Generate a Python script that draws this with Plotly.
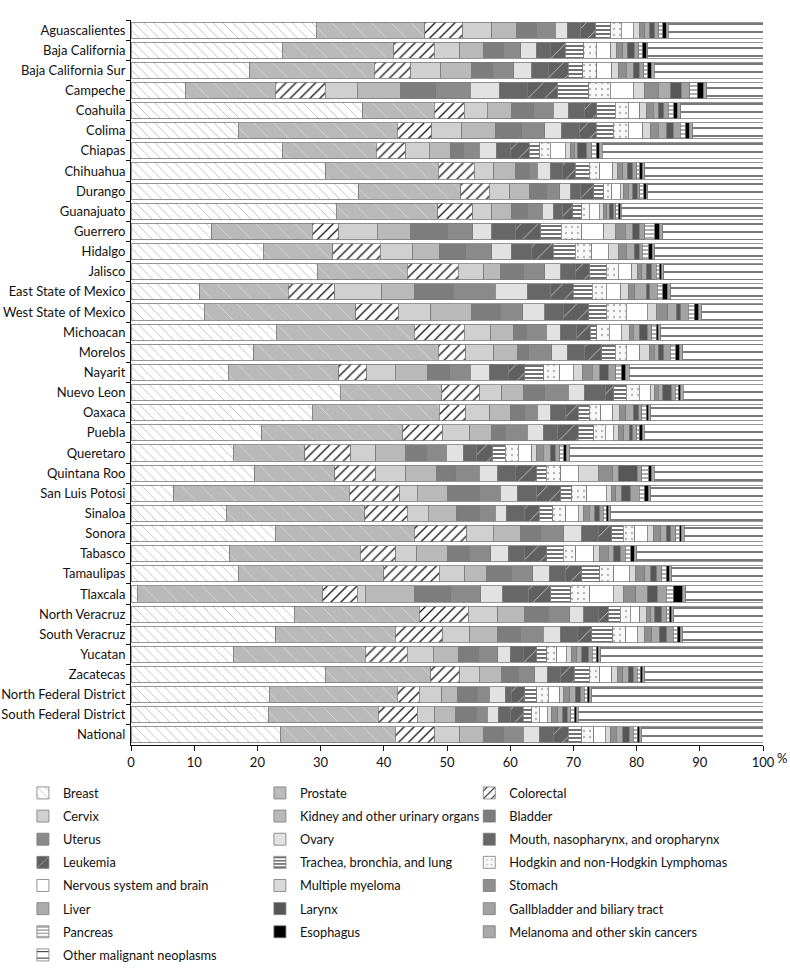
import plotly.graph_objects as go

states = ["Aguascalientes", "Baja California", "Baja California Sur", "Campeche", "Coahuila", "Colima",
          "Chiapas", "Chihuahua", "Durango", "Guanajuato", "Guerrero", "Hidalgo", "Jalisco",
          "East State of Mexico", "West State of Mexico", "Michoacan", "Morelos", "Nayarit", "Nuevo Leon",
          "Oaxaca", "Puebla", "Queretaro", "Quintana Roo", "San Luis Potosi", "Sinaloa", "Sonora", "Tabasco",
          "Tamaulipas", "Tlaxcala", "North Veracruz", "South Veracruz", "Yucatan", "Zacatecas",
          "North Federal District", "South Federal District", "National"]

breast = [29.3, 23.9, 18.8, 8.6, 36.7, 17.0, 23.9, 30.8, 36.0, 32.5, 12.8, 20.9, 29.5, 10.9, 11.6, 23.0, 19.4, 15.4, 33.1, 28.7, 20.7, 16.2, 19.6, 6.8, 15.1, 22.8, 15.6, 17.0, 1.0, 25.8, 22.9, 16.2, 30.7, 21.9, 21.7, 23.7]
prostate = [17.2, 17.7, 19.7, 14.2, 11.3, 25.1, 14.9, 17.8, 16.2, 16.0, 15.9, 11.0, 14.2, 14.0, 24.0, 21.8, 29.2, 17.5, 16.1, 20.1, 22.3, 11.3, 12.6, 27.7, 21.9, 22.0, 20.7, 23.0, 29.3, 19.8, 18.9, 20.9, 16.7, 20.2, 17.4, 18.1]
colorectal = [6.0, 6.4, 5.8, 7.9, 4.7, 5.5, 4.7, 5.7, 4.5, 5.6, 4.2, 7.5, 8.1, 7.3, 6.7, 7.9, 4.4, 4.4, 6.0, 4.2, 6.3, 7.3, 6.5, 8.0, 6.7, 8.3, 5.6, 8.8, 5.5, 7.8, 7.5, 6.6, 4.6, 3.5, 6.2, 6.3]
cervix = [4.6, 4.0, 4.7, 5.1, 3.7, 4.7, 3.7, 3.1, 3.2, 3.0, 6.1, 5.2, 4.0, 7.5, 5.1, 4.2, 4.4, 4.5, 3.5, 3.8, 4.3, 3.9, 4.8, 2.8, 3.3, 4.2, 3.3, 4.0, 1.3, 4.6, 4.3, 4.1, 3.1, 3.6, 2.8, 3.9]
kidney = [3.9, 3.8, 4.9, 6.9, 3.8, 5.3, 3.3, 3.5, 3.1, 3.1, 5.3, 4.2, 2.7, 5.1, 6.5, 3.6, 3.7, 5.1, 3.4, 3.3, 3.5, 4.8, 4.9, 4.8, 4.5, 4.4, 4.9, 3.4, 7.7, 4.2, 4.4, 4.0, 3.6, 2.4, 3.3, 3.8]
bladder = [3.1, 3.1, 3.3, 5.5, 3.5, 4.2, 2.1, 2.1, 2.7, 2.5, 5.7, 4.2, 3.6, 6.2, 4.5, 2.0, 1.8, 3.5, 3.4, 2.2, 2.1, 3.2, 3.0, 5.0, 3.6, 3.1, 3.4, 4.0, 5.8, 3.8, 3.6, 3.2, 2.6, 3.2, 3.2, 3.2]
uterus = [3.0, 2.8, 3.4, 5.5, 3.1, 3.7, 2.5, 1.3, 2.1, 2.4, 4.1, 4.1, 3.4, 6.6, 3.6, 3.2, 3.7, 3.3, 3.7, 2.0, 3.5, 3.2, 3.7, 3.3, 2.5, 3.7, 3.4, 3.4, 4.7, 3.4, 3.6, 3.0, 2.6, 1.9, 1.8, 3.1]
ovary = [1.9, 2.4, 2.8, 4.6, 2.4, 2.6, 2.7, 2.0, 1.8, 1.7, 3.0, 3.1, 2.5, 5.1, 3.5, 2.2, 2.4, 3.0, 2.5, 2.1, 2.5, 2.7, 2.9, 2.7, 1.8, 2.8, 2.8, 2.6, 3.5, 2.2, 2.7, 2.0, 2.0, 2.5, 1.7, 2.5]
mouth = [2.2, 2.2, 2.6, 4.4, 2.5, 2.9, 2.3, 2.0, 1.6, 1.5, 3.8, 3.2, 2.3, 3.7, 2.9, 2.6, 2.8, 3.0, 3.3, 2.3, 2.3, 2.1, 2.8, 3.1, 2.9, 2.6, 2.5, 2.6, 4.1, 2.3, 2.7, 2.1, 2.1, 1.0, 2.0, 2.2]
leukemia = [2.3, 2.4, 3.2, 4.8, 2.0, 2.6, 2.9, 2.0, 2.0, 1.6, 3.9, 3.4, 2.3, 3.6, 4.0, 2.2, 2.7, 2.6, 1.4, 2.1, 3.3, 2.5, 3.4, 3.8, 2.3, 2.2, 3.6, 2.5, 3.5, 1.6, 2.3, 2.1, 2.1, 2.1, 2.0, 2.4]
trachea = [2.4, 2.9, 2.3, 4.9, 2.9, 2.7, 1.7, 2.2, 1.6, 1.4, 3.3, 3.5, 2.6, 3.0, 2.8, 1.0, 2.1, 3.0, 2.0, 1.7, 2.4, 2.0, 1.5, 1.7, 2.1, 1.8, 2.6, 2.9, 3.2, 1.9, 3.3, 1.6, 2.4, 1.9, 1.3, 2.1]
hodgkin = [1.7, 2.0, 2.2, 3.4, 2.1, 2.4, 1.6, 1.7, 1.3, 1.2, 3.2, 2.6, 1.9, 2.2, 3.2, 2.0, 1.8, 2.5, 2.0, 1.8, 1.8, 2.1, 2.3, 2.4, 2.1, 1.8, 2.0, 2.2, 3.0, 1.6, 2.1, 1.6, 1.7, 1.8, 1.2, 1.9]
nervous = [1.9, 2.3, 2.4, 3.7, 1.8, 2.3, 2.4, 2.0, 1.3, 1.6, 3.5, 2.6, 2.1, 2.3, 3.3, 1.9, 2.1, 2.2, 1.8, 1.9, 1.3, 2.1, 2.8, 3.1, 2.0, 2.0, 2.8, 2.4, 3.7, 1.5, 1.8, 1.5, 1.9, 1.8, 1.3, 1.8]
myeloma = [0.9, 0.9, 1.0, 1.8, 1.1, 1.2, 0.8, 0.7, 0.5, 0.6, 1.8, 1.6, 0.9, 1.2, 1.4, 1.2, 1.5, 1.5, 0.6, 1.1, 0.8, 0.8, 3.1, 0.9, 0.8, 0.9, 1.0, 1.1, 1.7, 1.1, 1.1, 0.8, 0.8, 0.7, 0.7, 0.9]
stomach = [0.9, 1.0, 1.3, 2.1, 1.0, 1.2, 0.6, 0.9, 0.8, 0.6, 1.6, 1.3, 0.7, 1.0, 1.8, 0.7, 0.8, 1.5, 0.6, 1.0, 0.9, 1.0, 2.3, 0.6, 0.9, 1.2, 1.3, 1.4, 1.9, 0.6, 1.2, 0.8, 0.9, 0.9, 0.9, 0.9]
liver = [0.8, 0.7, 1.1, 2.0, 0.8, 1.4, 0.5, 0.7, 0.7, 0.4, 1.2, 1.2, 0.7, 1.8, 1.4, 0.9, 0.6, 1.2, 0.7, 1.2, 0.8, 1.1, 0.9, 0.9, 0.9, 0.9, 0.9, 0.9, 1.8, 0.7, 1.2, 0.8, 0.9, 0.9, 0.8, 1.0]
larynx = [0.8, 1.1, 0.9, 1.7, 0.9, 1.0, 1.5, 0.9, 0.7, 0.6, 1.0, 0.8, 0.9, 0.6, 0.7, 1.3, 0.9, 1.3, 1.4, 0.8, 0.6, 0.8, 3.0, 1.4, 0.8, 0.7, 1.0, 1.0, 1.6, 1.1, 1.2, 1.1, 0.8, 0.9, 0.7, 1.0]
gallbladder = [0.6, 0.7, 0.7, 1.3, 0.7, 1.1, 0.8, 0.6, 0.4, 0.4, 0.9, 0.5, 0.7, 1.2, 1.2, 0.7, 1.0, 1.2, 0.6, 0.5, 0.6, 0.7, 0.7, 1.4, 0.5, 0.8, 0.8, 0.8, 1.4, 0.8, 1.0, 0.6, 0.6, 0.5, 0.6, 0.7]
pancreas = [0.6, 0.6, 0.7, 1.2, 0.9, 0.8, 0.7, 0.5, 0.6, 0.4, 1.6, 1.0, 0.5, 0.8, 0.9, 0.7, 0.9, 0.9, 0.5, 0.7, 0.4, 0.7, 1.1, 0.8, 0.5, 0.6, 0.9, 0.7, 1.1, 0.4, 0.6, 0.6, 0.5, 0.5, 0.5, 0.6]
esophagus = [0.6, 0.6, 0.5, 1.0, 0.5, 0.6, 0.5, 0.5, 0.4, 0.3, 0.8, 0.6, 0.4, 0.8, 0.7, 0.3, 0.6, 0.7, 0.4, 0.4, 0.6, 0.4, 0.5, 0.7, 0.4, 0.3, 0.5, 0.5, 1.5, 0.4, 0.5, 0.3, 0.4, 0.4, 0.4, 0.4]
melanoma = [0.3, 0.3, 0.5, 0.5, 0.6, 0.6, 0.5, 0.3, 0.3, 0.2, 0.4, 0.4, 0.3, 0.5, 0.5, 0.4, 0.5, 0.5, 0.4, 0.3, 0.2, 0.5, 0.4, 0.3, 0.3, 0.4, 0.4, 0.4, 0.5, 0.3, 0.4, 0.4, 0.3, 0.3, 0.3, 0.3]
other = [15.0, 18.2, 17.2, 8.9, 13.0, 11.1, 25.4, 18.7, 18.2, 22.4, 15.9, 17.1, 15.7, 14.6, 9.7, 16.2, 12.7, 21.2, 12.6, 17.8, 18.8, 30.6, 17.2, 17.8, 24.1, 12.5, 20.0, 14.4, 12.2, 14.1, 12.7, 25.7, 18.7, 27.1, 29.2, 19.2]

tick_vals = [0, 10, 20, 30, 40, 50, 60, 70, 80, 90, 100]

# (name, values, bg colour, pattern shape, pattern colour, pattern size, solidity, legend column)
series = [
    ("Breast", breast, "#ffffff", "\\", "#a8a8a8", 7, 0.1, 1),
    ("Prostate", prostate, "#b9b9b9", "\\", "#d6d6d6", 14, 0.07, 2),
    ("Colorectal", colorectal, "#ffffff", "/", "#111111", 7, 0.18, 3),
    ("Cervix", cervix, "#d0d0d0", "", None, None, None, 1),
    ("Kidney and other urinary organs", kidney, "#b9b9b9", "", None, None, None, 2),
    ("Bladder", bladder, "#7d7d7d", "", None, None, None, 3),
    ("Uterus", uterus, "#8a8a8a", "", None, None, None, 1),
    ("Ovary", ovary, "#e2e2e2", "", None, None, None, 2),
    ("Mouth, nasopharynx, and oropharynx", mouth, "#676767", "", None, None, None, 3),
    ("Leukemia", leukemia, "#606060", "/", "#bdbdbd", 12, 0.08, 1),
    ("Trachea, bronchia, and lung", trachea, "#ffffff", "-", "#111111", 4, 0.3, 2),
    ("Hodgkin and non-Hodgkin Lymphomas", hodgkin, "#f8f8f8", ".", "#b8b8b8", 6, 0.12, 3),
    ("Nervous system and brain", nervous, "#ffffff", "", None, None, None, 1),
    ("Multiple myeloma", myeloma, "#d9d9d9", "", None, None, None, 2),
    ("Stomach", stomach, "#8f8f8f", "", None, None, None, 3),
    ("Liver", liver, "#ababab", "", None, None, None, 1),
    ("Larynx", larynx, "#575757", "", None, None, None, 2),
    ("Gallbladder and biliary tract", gallbladder, "#a2a2a2", "", None, None, None, 3),
    ("Pancreas", pancreas, "#ffffff", "-", "#8a8a8a", 4, 0.35, 1),
    ("Esophagus", esophagus, "#000000", "", None, None, None, 2),
    ("Melanoma and other skin cancers", melanoma, "#a9a9a9", "", None, None, None, 3),
    ("Other malignant neoplasms", other, "#ffffff", "-", "#111111", 8, 0.14, 1),
]

legend_names = {1: "legend", 2: "legend2", 3: "legend3"}

fig = go.Figure()
for i, (name, vals, bg, shape, fg, size, sol, col) in enumerate(series):
    marker = dict(color=bg, line=dict(color="#7a7a7a", width=0.8))
    if shape:
        marker["pattern"] = dict(shape=shape, fgcolor=fg, bgcolor=bg, size=size,
                                 solidity=sol, fillmode="replace")
    fig.add_trace(go.Bar(
        y=states, x=vals, name=name, orientation="h", marker=marker,
        legend=legend_names[col], legendgroup=name,
    ))

FONT = "Lato, 'Open Sans', sans-serif"
leg_common = dict(xref="container", yref="container", yanchor="top", y=0.197,
                  xanchor="left", orientation="v", tracegroupgap=3.5,
                  font=dict(family=FONT, size=12.8, color="#111111"),
                  bgcolor="rgba(0,0,0,0)", itemclick=False)

fig.update_layout(
    width=790, height=969,
    margin=dict(l=131, r=27, t=20, b=224, autoexpand=False),
    barmode="stack", bargap=0.2,
    plot_bgcolor="white", paper_bgcolor="white",
    font=dict(family=FONT, size=13, color="#111111"),
    xaxis=dict(range=[0, 100], tickvals=tick_vals, ticks="outside", ticklen=5,
               tickcolor="#111", showline=True, linecolor="#111", linewidth=1,
               showgrid=False, zeroline=False, tickfont=dict(size=13)),
    yaxis=dict(autorange="reversed", ticks="outside", ticklen=4, tickcolor="#111",
               tickson="boundaries", showline=True, linecolor="#111", linewidth=1,
               showgrid=False, tickfont=dict(size=13), ticklabelstandoff=2),
    legend=dict(x=0.029, **leg_common),
    legend2=dict(x=0.329, **leg_common),
    legend3=dict(x=0.594, **leg_common),
    annotations=[dict(text="%", xref="paper", yref="paper", x=1.03, y=-0.018,
                      showarrow=False, font=dict(size=13), xanchor="center", yanchor="middle")],
)

fig.write_html("out.html", config={"displayModeBar": False},
               post_script="document.body.style.margin='0px';")
